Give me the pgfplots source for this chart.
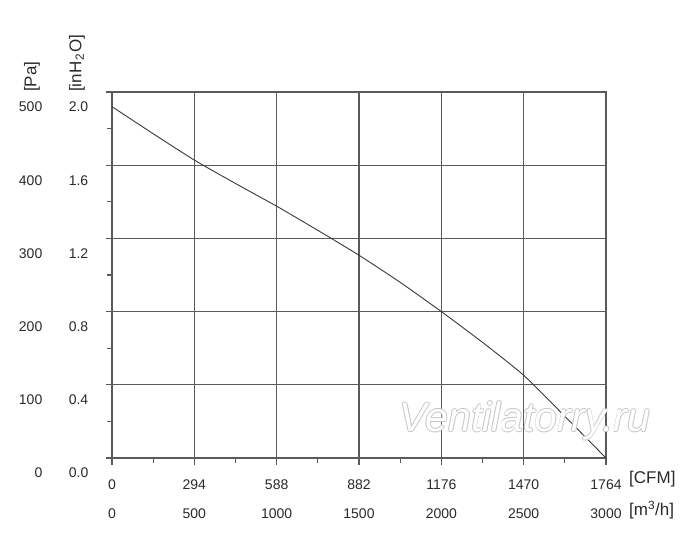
\documentclass[border=0pt]{standalone}
\usepackage{pgfplots}
\pgfplotsset{compat=1.18}
\usepackage{fontspec}
\setmainfont{Liberation Sans}
\definecolor{gridc}{HTML}{5A5A5A}
\definecolor{curvec}{HTML}{3A3A3A}
\definecolor{txt}{HTML}{2A2A2A}
\newcommand{\yl}[2]{\makebox[26pt][r]{#1}\makebox[46pt][r]{#2}}
\begin{document}
\begin{tikzpicture}[x=1pt,y=1pt]
\fill[white] (0,0) rectangle (700,546);
\begin{axis}[
  at={(112pt,88pt)}, anchor=south west,
  scale only axis, width=494pt, height=366pt,
  xmin=0, xmax=3000, ymin=0, ymax=500,
  xtick={0,500,...,3000}, ytick={0,100,...,500},
  minor x tick num=1, minor y tick num=1,
  grid=major,
  major grid style={gridc, line width=1.3pt},
  axis line style={gridc, line width=1.3pt},
  tick style={gridc, line width=1.1pt},
  tick align=outside, xtick pos=left, ytick pos=left,
  major tick length=6.5pt, minor tick length=5pt,
  xticklabels={{0\\0},{294\\500},{588\\1000},{882\\1500},{1176\\2000},{1470\\2500},{1764\\3000}},
  yticklabels={\yl{0}{0.0},\yl{100}{0.4},\yl{200}{0.8},\yl{300}{1.2},\yl{400}{1.6},\yl{500}{2.0}},
  xticklabel style={align=center, anchor=north, inner sep=0pt, font=\fontsize{14}{29}\selectfont, text=txt, yshift=-15pt},
  yticklabel style={anchor=east, inner sep=0pt, font=\fontsize{14}{17}\selectfont, text=txt, xshift=-17pt, yshift=-15pt},
]
\addplot[curvec, line width=0.9pt, smooth, tension=0.35] coordinates {
(0,480) (250,443) (500,407) (750,375) (1000,344) (1250,311) (1500,277)
(1750,240) (2000,200) (2250,158) (2500,113) (2750,57) (3000,0)};
\end{axis}
\node[rotate=90, anchor=west, inner sep=0pt, text=txt, font=\fontsize{17}{20}\selectfont] at (32,454) {[Pa]};
\node[rotate=90, anchor=west, inner sep=0pt, text=txt, font=\fontsize{17}{20}\selectfont] at (77,454) {[inH\kern1pt\textsubscript{2}\kern1pt O]};
\node[anchor=west, inner sep=0pt, text=txt, font=\fontsize{17}{20}\selectfont] at (629,67) {[CFM]};
\node[anchor=west, inner sep=0pt, text=txt, font=\fontsize{17}{20}\selectfont] at (629,36) {[m\textsuperscript{3}/h]};
\foreach \dx/\dy in {0.7/0,-0.7/0,0/0.7,0/-0.7}{
  \node[inner sep=0pt, text=gray!45, font=\fontsize{41}{44}\selectfont\itshape] at (525+\dx,125+\dy) {Ventilatorry.ru};
}
\node[inner sep=0pt, text=white, font=\fontsize{41}{44}\selectfont\itshape] at (525,125) {Ventilatorry.ru};
\end{tikzpicture}
\end{document}
